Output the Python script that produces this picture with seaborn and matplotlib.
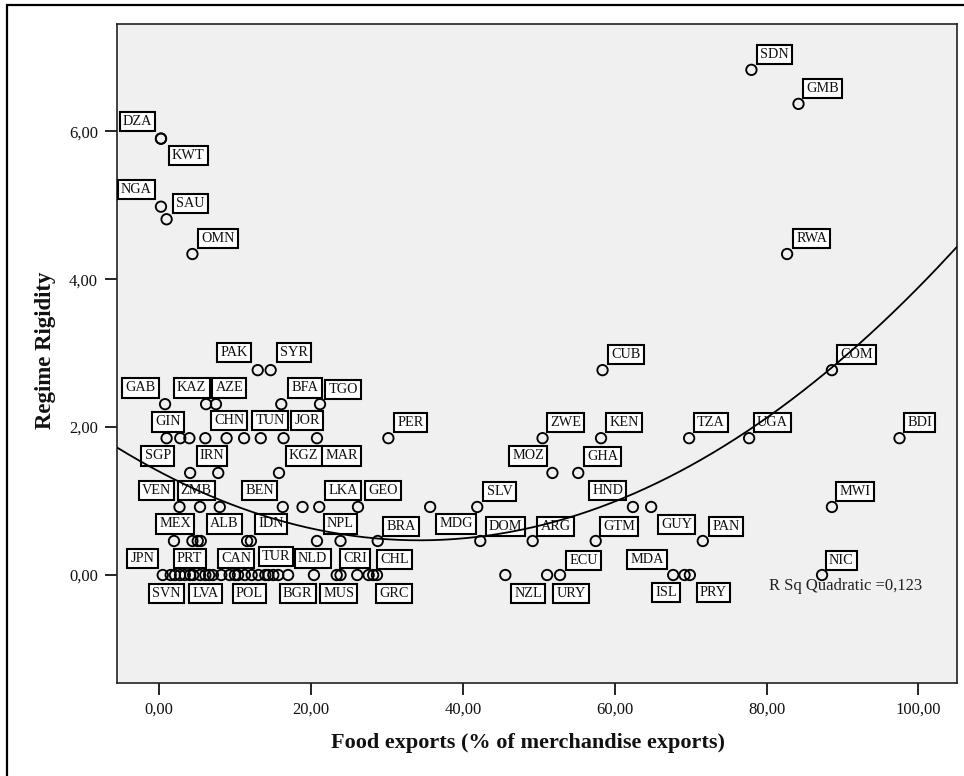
import numpy as np
import matplotlib
matplotlib.use("Agg")
import matplotlib.pyplot as plt
from matplotlib.patches import Rectangle
import seaborn as sns

# Country observations: food exports share vs. regime rigidity
food_exports = [
    78.0, 84.2,
    0.26, 0.26, 0.26, 1.0, 4.4, 82.7,
    13.0, 14.7, 58.4, 88.6,
    0.8, 6.2, 7.5, 16.1, 21.2,
    1.0, 2.8, 4.0, 6.1, 8.9, 11.2, 13.4, 16.4, 20.8, 30.2, 50.5, 58.2, 69.8, 77.7, 97.5,
    4.1, 7.8, 15.8, 51.8, 55.2,
    2.7, 5.4, 8.0, 16.3, 18.9, 21.1, 26.2, 35.7, 41.9, 62.4, 64.8, 88.6,
    1.97, 4.4, 5.1, 5.5, 11.6, 12.1, 20.8, 23.9, 28.8, 42.3, 49.2, 57.5, 71.6,
    0.49, 1.54, 2.1, 2.77, 3.4, 4.1, 4.5, 5.4, 6.1, 6.6, 7.1, 8.2, 9.3, 10.0, 10.4,
    11.3, 12.2, 13.1, 14.0, 14.4, 15.05, 15.7, 17.0, 20.4, 23.4, 23.9, 26.1, 27.6,
    28.2, 28.7, 45.6, 51.1, 52.8, 67.7, 69.2, 69.9, 87.3,
]
regime_rigidity = (
    [6.83, 6.37]
    + [5.90, 5.90, 4.98, 4.81, 4.34, 4.34]
    + [2.77] * 4
    + [2.31] * 5
    + [1.85] * 15
    + [1.38] * 5
    + [0.92] * 12
    + [0.46] * 13
    + [0.0] * 37
)

# Country code labels and where their boxes sit
label_codes = [
    "DZA", "KWT", "NGA", "SAU", "OMN", "SDN", "GMB", "RWA",
    "PAK", "SYR", "CUB", "COM",
    "GAB", "KAZ", "AZE", "BFA", "TGO",
    "GIN", "CHN", "TUN", "JOR", "PER", "ZWE", "KEN", "TZA", "UGA", "BDI",
    "SGP", "IRN", "KGZ", "MAR", "MOZ", "GHA",
    "VEN", "ZMB", "BEN", "LKA", "GEO", "SLV", "HND", "MWI",
    "MEX", "ALB", "IDN", "NPL", "MDG", "BRA", "DOM", "ARG", "GTM", "GUY", "PAN",
    "JPN", "PRT", "CAN", "TUR", "NLD", "CRI", "CHL", "ECU", "MDA", "NIC",
    "SVN", "LVA", "POL", "BGR", "MUS", "GRC", "NZL", "URY", "ISL", "PRY",
]
label_x = [
    -2.83, 3.84, -3.0, 4.15, 7.81, 81.04, 87.36, 85.94,
    9.85, 17.75, 61.46, 91.84,
    -2.40, 4.31, 9.26, 19.22, 24.23,
    1.16, 9.24, 14.65, 19.49, 33.09, 53.56, 61.26, 72.65, 80.78, 100.16,
    -0.16, 6.98, 19.05, 24.05, 48.62, 58.39,
    -0.30, 4.90, 13.23, 24.25, 29.49, 44.83, 59.09, 91.64,
    2.11, 8.62, 14.77, 23.87, 39.14, 31.84, 45.62, 52.23, 60.57, 68.16, 74.65,
    -2.17, 4.04, 10.16, 15.40, 20.24, 25.81, 30.97, 55.92, 64.25, 89.84,
    1.01, 6.10, 11.88, 18.27, 23.66, 30.97, 48.62, 54.25, 66.78, 72.98,
]
label_y = [
    6.13, 5.67, 5.21, 5.02, 4.55, 7.04, 6.58, 4.55,
    3.01, 3.01, 2.98, 2.98,
    2.53, 2.53, 2.53, 2.53, 2.51,
    2.07, 2.09, 2.09, 2.09, 2.06, 2.06, 2.06, 2.06, 2.06, 2.06,
    1.61, 1.61, 1.61, 1.61, 1.61, 1.60,
    1.14, 1.14, 1.14, 1.14, 1.14, 1.13, 1.14, 1.13,
    0.69, 0.69, 0.69, 0.69, 0.69, 0.66, 0.66, 0.66, 0.66, 0.68, 0.66,
    0.22, 0.22, 0.22, 0.25, 0.22, 0.22, 0.21, 0.20, 0.21, 0.20,
    -0.25, -0.25, -0.25, -0.25, -0.25, -0.25, -0.25, -0.25, -0.24, -0.24,
]

# Quadratic fit line: intercept, linear, quadratic terms
fit_coefs = [1.40, -0.0543, 0.000792]
r_squared = "0,123"

x_ticks = [0, 20, 40, 60, 80, 100]
y_ticks = [0, 2, 4, 6]

sns.set_theme(style="white")
plt.rcParams["font.family"] = ["Liberation Serif", "DejaVu Serif"]

fig = plt.figure(figsize=(9.64, 7.76), dpi=100)
ax = fig.add_axes([117 / 964, 1 - 683 / 776, 840 / 964, 659 / 776])
ax.set_facecolor("#f0f0f0")
ax.set_xlim(-5.53, 105.07)
ax.set_ylim(-1.46, 7.45)

# Labels
for code, lx, ly in zip(label_codes, label_x, label_y):
    ax.text(lx, ly, code, ha="center", va="center", fontsize=10.3, zorder=3,
            color="#111111",
            bbox=dict(boxstyle="square,pad=0.22", fc="white", ec="black", lw=1.5))

# Points
sns.scatterplot(x=food_exports, y=regime_rigidity, ax=ax, marker="o", s=56,
                facecolor="none", edgecolor="black", linewidth=1.35, zorder=4)

# Fitted curve
xs = np.linspace(*ax.get_xlim(), 300)
ys = fit_coefs[0] + fit_coefs[1] * xs + fit_coefs[2] * xs ** 2
sns.lineplot(x=xs, y=ys, ax=ax, color="black", linewidth=1.3, sort=False,
             estimator=None, zorder=5)

ax.text(90.45, -0.15, f"R Sq Quadratic ={r_squared}", ha="center", va="center",
        fontsize=12, color="#222222", zorder=6)

ax.set_xticks(x_ticks)
ax.set_xticklabels([f"{v:.2f}".replace(".", ",") for v in x_ticks])
ax.set_yticks(y_ticks)
ax.set_yticklabels([f"{v:.2f}".replace(".", ",") for v in y_ticks])
ax.tick_params(axis="both", which="major", direction="out", length=8.6, width=1.2,
               color="black", labelsize=12, labelcolor="#111111", pad=5,
               bottom=True, left=True, top=False, right=False)

for side in ["left", "bottom", "top", "right"]:
    ax.spines[side].set_color("#222222")
    ax.spines[side].set_linewidth(1.2)

ax.set_xlabel("Food exports (% of merchandise exports)", fontsize=16,
              fontweight="bold", color="#111111")
ax.set_ylabel("Regime Rigidity", fontsize=16.5, fontweight="bold", color="#111111")
ax.xaxis.label.set_va("center")
ax.yaxis.label.set_va("center")
ax.xaxis.set_label_coords(0.489, -0.091)
ax.yaxis.set_label_coords(-0.0857, 0.505)

# Outer chart frame
fig.add_artist(Rectangle((7 / 964, -0.1), 1.2, 0.1 + 1 - 5 / 776,
                         transform=fig.transFigure, fill=False,
                         lw=1.6, ec="black"))

fig.savefig("out.png", dpi=100)
